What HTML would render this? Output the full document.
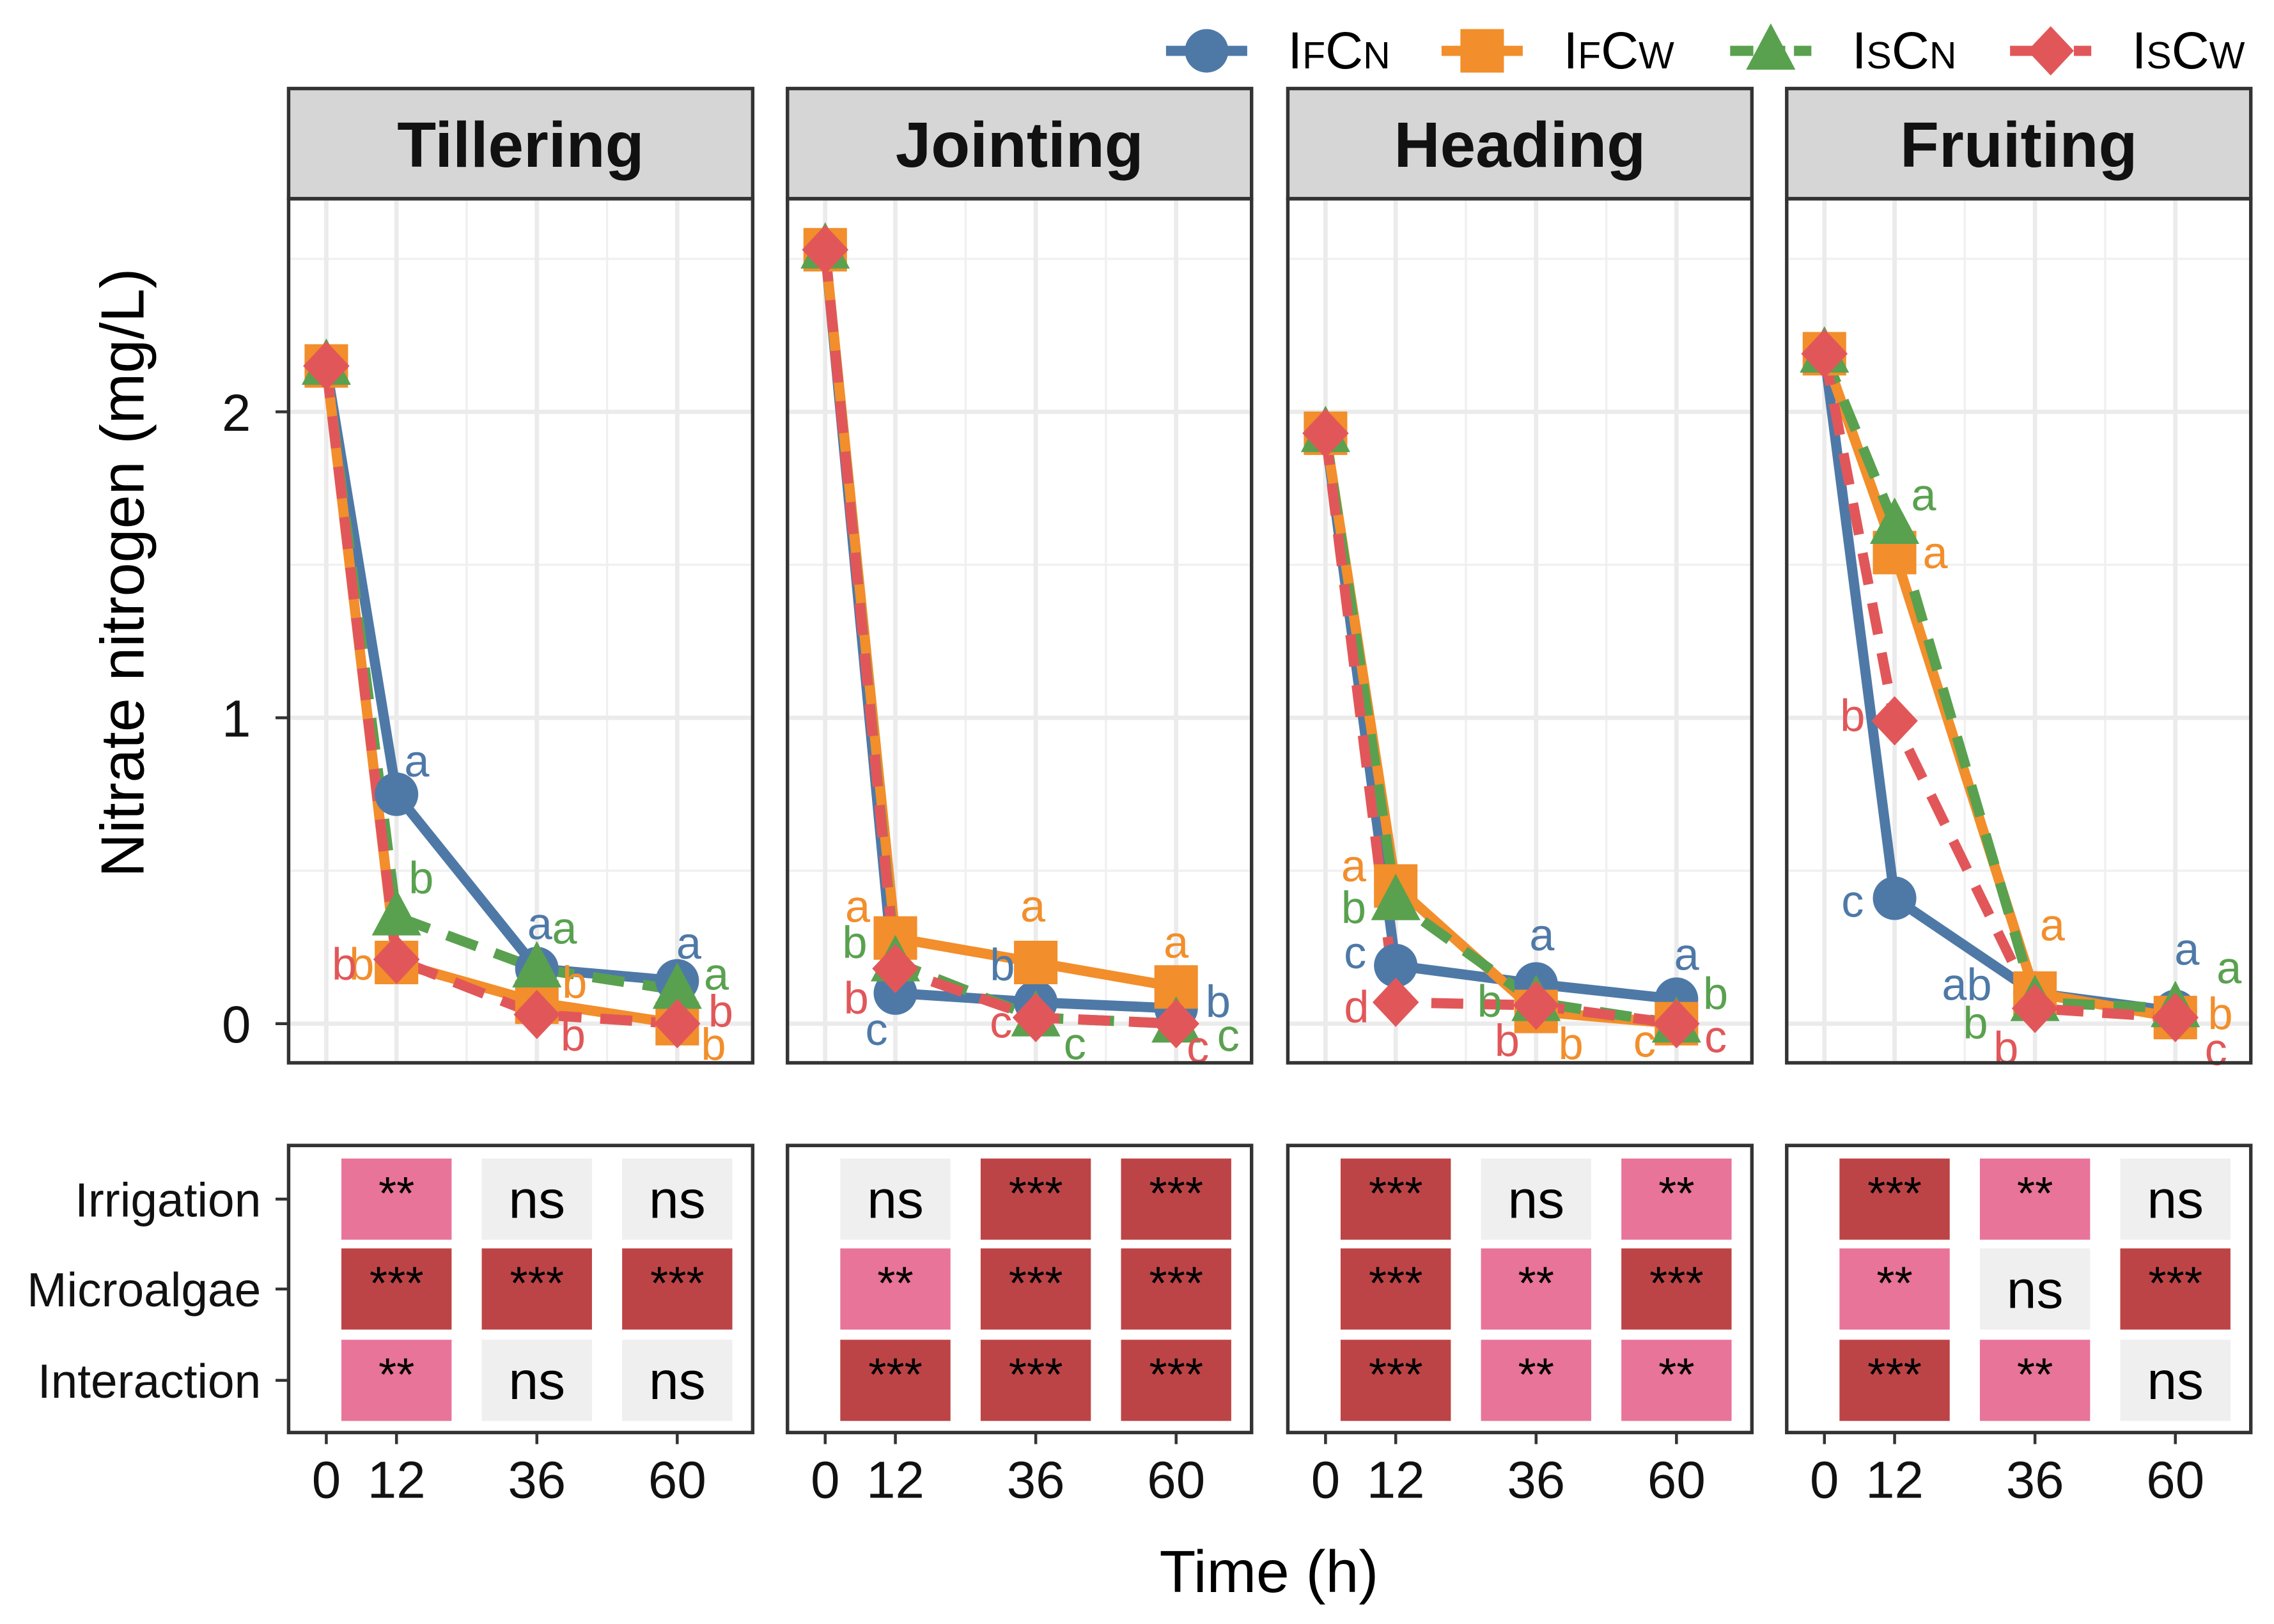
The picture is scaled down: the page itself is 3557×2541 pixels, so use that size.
<!DOCTYPE html>
<html><head><meta charset="utf-8"><style>
html,body{margin:0;padding:0;background:#fff}
svg{display:block}
text{font-family:"Liberation Sans",sans-serif}
</style></head><body>
<svg id="chart" xmlns="http://www.w3.org/2000/svg" width="3557" height="2541" viewBox="0 0 1568 1120">
<rect width="1568" height="1120" fill="#fff"/>
<g id="root"></g>
</svg>
<script>
const stages = ["Tillering","Jointing","Heading","Fruiting"];
const hours = [0,12,36,60];
const seriesNames = ["IFCN","IFCW","ISCN","ISCW"];
const yTicks = [0,1,2];
const xTickLabels = ["0","12","36","60"];
const factors = ["Irrigation","Microalgae","Interaction"];
const sigHours = [12,36,60];
const tilleringVals = [[2.15,0.75,0.18,0.14],[2.15,0.20,0.07,0.0],[2.15,0.35,0.18,0.11],[2.15,0.21,0.03,0.0]];
const jointingVals = [[2.53,0.10,0.07,0.05],[2.53,0.28,0.20,0.12],[2.53,0.20,0.02,0.0],[2.53,0.18,0.02,0.0]];
const headingVals = [[1.93,0.19,0.13,0.08],[1.93,0.45,0.04,0.0],[1.93,0.40,0.07,0.0],[1.93,0.07,0.06,0.0]];
const fruitingVals = [[2.19,0.41,0.10,0.04],[2.19,1.54,0.10,0.02],[2.19,1.63,0.07,0.05],[2.19,0.99,0.05,0.02]];
const allVals = [tilleringVals,jointingVals,headingVals,fruitingVals];
const tilleringLetters = [[0,1,"a",14,-23],[0,2,"a",2,-31],[0,3,"a",8,-26],[1,1,"b",-24,1],[1,2,"b",26,-14],[1,3,"b",25,14],[2,1,"b",17,-27],[2,2,"a",19,-28],[2,3,"a",27,-11],[3,1,"b",-36,3],[3,2,"b",25,14],[3,3,"b",30,-9]];
const jointingLetters = [[0,1,"c",-13,25],[0,2,"b",-23,-26],[0,3,"b",29,-5],[1,1,"a",-26,-22],[1,2,"a",-2,-39],[1,3,"a",0,-31],[2,1,"b",-28,-14],[2,2,"c",27,18],[2,3,"c",36,8],[3,1,"b",-27,20],[3,2,"c",-24,3],[3,3,"c",15,16]];
const headingLetters = [[0,1,"c",-28,-9],[0,2,"a",4,-34],[0,3,"a",7,-31],[1,1,"a",-29,-14],[1,2,"b",24,22],[1,3,"c",-22,12],[2,1,"b",-29,4],[2,2,"b",-32,-1],[2,3,"b",27,-21],[3,1,"d",-27,3],[3,2,"b",-20,24],[3,3,"c",27,9]];
const fruitingLetters = [[0,1,"c",-29,2],[0,2,"ab",-47,-6],[0,3,"a",8,-43],[1,1,"a",28,0],[1,2,"a",12,-47],[1,3,"b",31,-3],[2,1,"a",20,-21],[2,2,"b",-41,14],[2,3,"a",37,-28],[3,1,"b",-29,-4],[3,2,"b",-20,27],[3,3,"c",28,22]];
const allLetters = [tilleringLetters,jointingLetters,headingLetters,fruitingLetters];
const tilleringSig = [["**","ns","ns"],["***","***","***"],["**","ns","ns"]];
const jointingSig = [["ns","***","***"],["**","***","***"],["***","***","***"]];
const headingSig = [["***","ns","**"],["***","**","***"],["***","**","**"]];
const fruitingSig = [["***","**","ns"],["**","ns","***"],["***","**","ns"]];
const allSig = [tilleringSig,jointingSig,headingSig,fruitingSig];

const colors = ["#4E79A7","#F28E2B","#59A14F","#E15759"];
const dashes = [null,null,"22,13","22,13"];
const NS="http://www.w3.org/2000/svg";
const root=document.getElementById('root');
function el(tag,attrs,parent){const e=document.createElementNS(NS,tag);for(const k in attrs)e.setAttribute(k,attrs[k]);(parent||root).appendChild(e);return e;}
const panelLeft=[199,543,888,1232], panelW=320;
const plotTop=137, plotBot=733, stripTop=61;
const yScale=v=>706-211*v;
const xScale=(p,h)=>panelLeft[p]+26+h*4.033;

function marker(g,s,x,y){
  let m;
  if(s===0) m=el('circle',{cx:x,cy:y,r:15,fill:colors[0]},g);
  else if(s===1) m=el('rect',{x:x-15,y:y-15,width:30,height:30,fill:colors[1]},g);
  else if(s===2) m=el('polygon',{points:`${x},${y-19} ${x+17},${y+13} ${x-17},${y+13}`,fill:colors[2]},g);
  else m=el('polygon',{points:`${x},${y-17} ${x+16},${y} ${x},${y+17} ${x-16},${y}`,fill:colors[3]},g);
  return m;
}

stages.forEach((st,p)=>{
  const L=panelLeft[p];
  const pg=el('g',{});
  
  
  [0.5,1.5,2.5].forEach(v=>el('line',{x1:L,x2:L+panelW,y1:yScale(v),y2:yScale(v),stroke:'#f0f0f0','stroke-width':1.5},pg));
  [24,48].forEach(h=>el('line',{x1:xScale(p,h),x2:xScale(p,h),y1:plotTop,y2:plotBot,stroke:'#f0f0f0','stroke-width':1.5},pg));
  yTicks.forEach(v=>el('line',{x1:L,x2:L+panelW,y1:yScale(v),y2:yScale(v),stroke:'#ebebeb','stroke-width':3},pg));
  hours.forEach(h=>el('line',{x1:xScale(p,h),x2:xScale(p,h),y1:plotTop,y2:plotBot,stroke:'#ebebeb','stroke-width':3},pg));
  const strip=el('rect',{x:L,y:stripTop,width:panelW,height:plotTop-stripTop,fill:'#d6d6d6',stroke:'#333','stroke-width':2.4},pg);
  
  
  const stx=el('text',{x:L+panelW/2,y:115,'text-anchor':'middle','font-size':44,'font-weight':'bold',fill:'#111'},pg);
  stx.textContent=st;
  
  
  const vals=allVals[p];
  vals.forEach((arr,s)=>{
    const pts=arr.map((v,i)=>xScale(p,hours[i])+','+yScale(v)).join(' ');
    const a={points:pts,fill:'none',stroke:colors[s],'stroke-width':7,'stroke-linejoin':'round'};
    if(dashes[s]) a['stroke-dasharray']=dashes[s];
    const ln=el('polyline',a,pg);
    
    
  });
  vals.forEach((arr,s)=>{
    arr.forEach((v,i)=>{
      const m=marker(pg,s,xScale(p,hours[i]),yScale(v));
      
      
    });
  });
  allLetters[p].forEach(([s,i,t,dx,dy])=>{
    const tx=el('text',{x:xScale(p,hours[i])+dx,y:yScale(vals[s][i])+dy,'text-anchor':'middle','dominant-baseline':'central','font-size':31,fill:colors[s]},pg);
    tx.textContent=t;
    
    
  });
  el('rect',{x:L,y:plotTop,width:panelW,height:plotBot-plotTop,fill:'none',stroke:'#333','stroke-width':2.4},pg);
  const bg=el('g',{});
  
  
  const rowsY=[827,889,952];
  allSig[p].forEach((row,r)=>{
    row.forEach((sg,c)=>{
      const cx=xScale(p,sigHours[c]);
      const fill=sg==='***'?'#BD4446':(sg==='**'?'#E8749A':'#EFEFEF');
      const t=el('rect',{x:cx-38,y:rowsY[r]-28,width:76,height:56,fill:fill},bg);
      
      
      const tt=el('text',{x:cx,y:sg==='ns'?rowsY[r]+13:rowsY[r]+7,'text-anchor':'middle','font-size':sg==='ns'?37:32,fill:'#000'},bg);
      tt.textContent=sg;
      
      
    });
  });
  el('rect',{x:L,y:790,width:panelW,height:198,fill:'none',stroke:'#333','stroke-width':2.4},bg);
  hours.forEach((h,i)=>{
    const x=xScale(p,h);
    el('line',{x1:x,x2:x,y1:988,y2:996,stroke:'#333','stroke-width':2},bg);
    const tl=el('text',{x:x,y:1033,'text-anchor':'middle','font-size':36,fill:'#111'},bg);
    tl.textContent=xTickLabels[i];
    
    
  });
});
yTicks.forEach(v=>{
  el('line',{x1:190,x2:199,y1:yScale(v),y2:yScale(v),stroke:'#333','stroke-width':2});
  const t=el('text',{x:173,y:yScale(v)+13,'text-anchor':'end','font-size':36,fill:'#111'});
  t.textContent=String(v);
  
  
});
[827,889,952].forEach((y,r)=>{
  el('line',{x1:190,x2:199,y1:y,y2:y,stroke:'#333','stroke-width':2});
  const t=el('text',{x:180,y:y+12,'text-anchor':'end','font-size':33,fill:'#111'});
  t.textContent=factors[r];
  
  
});
const yt=el('text',{x:0,y:0,transform:'translate(99,395) rotate(-90)','text-anchor':'middle','font-size':42,fill:'#000'});
yt.textContent='Nitrate nitrogen (mg/L)';


const xt=el('text',{x:875,y:1098,'text-anchor':'middle','font-size':41,fill:'#000'});
xt.textContent='Time (h)';


const legX=[832,1022,1221,1414];
const legParts=[["F","N"],["F","W"],["S","N"],["S","W"]];
seriesNames.forEach((n,s)=>{
  const g=el('g',{});
  
  
  const a={x1:legX[s]-28,x2:legX[s]+28,y1:35,y2:35,stroke:colors[s],'stroke-width':7};
  if(dashes[s]) a['stroke-dasharray']='16,6';
  el('line',a,g);
  marker(g,s,legX[s],35);
  const t=el('text',{x:legX[s]+56,y:47,'font-size':36,fill:'#000'},g);
  const t1=el('tspan',{},t);t1.textContent='I';
  const t2=el('tspan',{'font-size':26},t);t2.textContent=legParts[s][0];
  const t3=el('tspan',{},t);t3.textContent='C';
  const t4=el('tspan',{'font-size':26},t);t4.textContent=legParts[s][1];
});
</script>
</body></html>
